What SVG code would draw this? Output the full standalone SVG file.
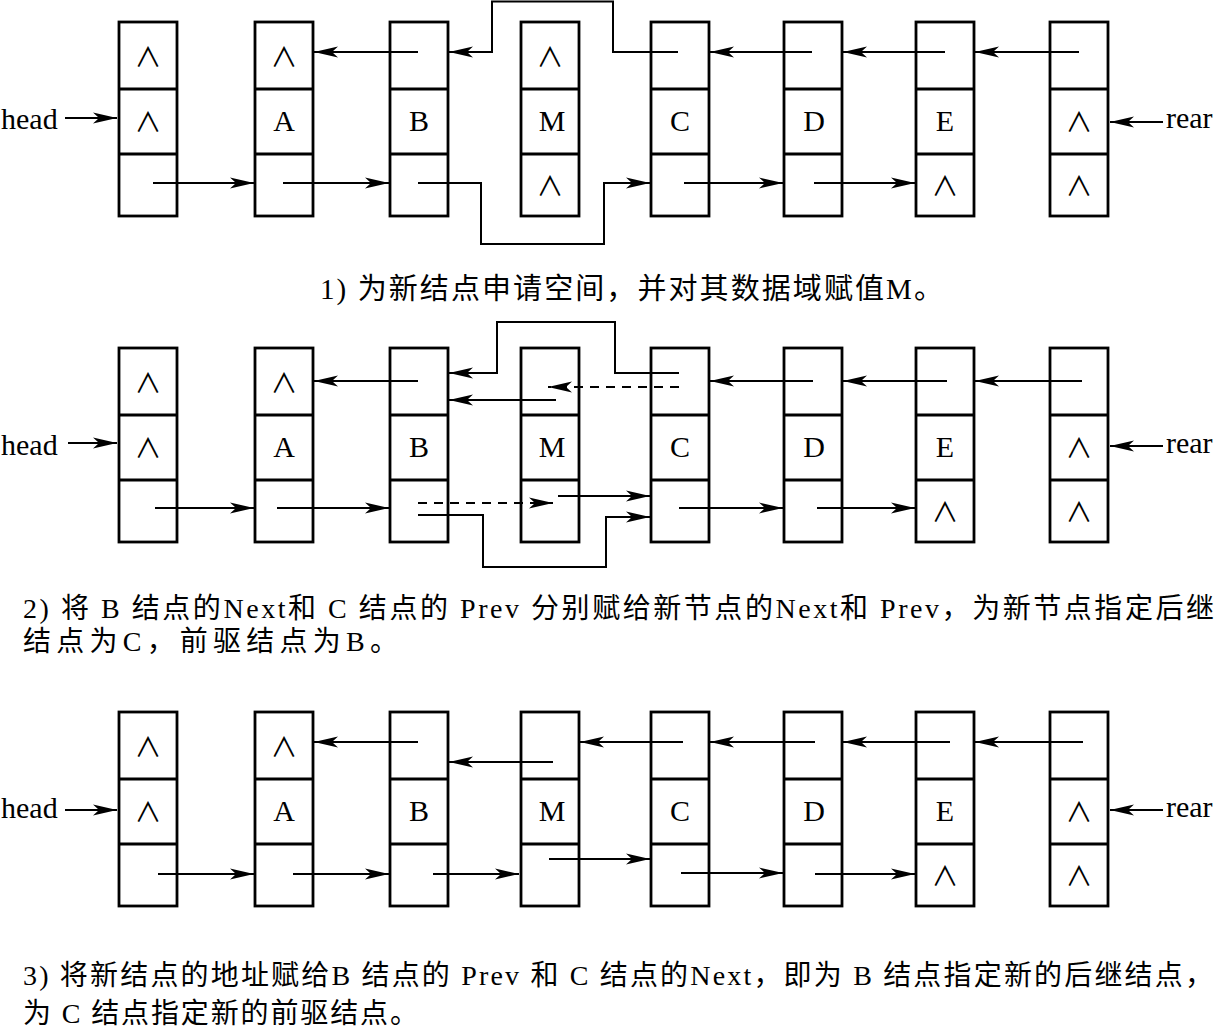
<svg xmlns="http://www.w3.org/2000/svg" width="1217" height="1032" viewBox="0 0 1217 1032">
<style>
.box{fill:#fff;stroke:#000;stroke-width:2.8}
.dv{stroke:#000;stroke-width:2.8}
.lbl{font-family:"Liberation Serif",serif;font-size:30px;text-anchor:middle}
.nil{font-family:"Noto Sans CJK SC",sans-serif;font-size:27px;text-anchor:middle}
.side{font-family:"Liberation Serif",serif;font-size:30px}
.ptr{fill:none;stroke:#000;stroke-width:2;marker-end:url(#ah)}
.dash{stroke-dasharray:9 7}
.cap{font-family:"Liberation Serif","Noto Sans CJK SC",serif;font-size:28px}
.cap1{font-family:"Liberation Serif","Noto Sans CJK SC",serif;font-size:29px}
</style>
<defs>
<marker id="ah" markerUnits="userSpaceOnUse" markerWidth="24" markerHeight="11" refX="24" refY="5.5" orient="auto" overflow="visible">
<path d="M0,0 L24,5.5 L0,11 L6,5.5 Z" fill="#000"/>
</marker>
<g id="cell">
<rect class="box" x="0" y="0" width="58" height="194"/>
<line class="dv" x1="0" y1="67" x2="58" y2="67"/>
<line class="dv" x1="0" y1="132" x2="58" y2="132"/>
</g>
</defs>

<!-- Row 1 -->
<g id="r1-head" transform="translate(119,22)"><use href="#cell"/><text class="nil" x="29" y="45">∧</text><text class="nil" x="29" y="110">∧</text></g>
<g id="r1-A" transform="translate(255,22)"><use href="#cell"/><text class="nil" x="29" y="45">∧</text><text class="lbl" x="29" y="109">A</text></g>
<g id="r1-B" transform="translate(390,22)"><use href="#cell"/><text class="lbl" x="29" y="109">B</text></g>
<g id="r1-M" transform="translate(521,22)"><use href="#cell"/><text class="nil" x="29" y="45">∧</text><text class="lbl" x="31" y="109">M</text><text class="nil" x="29" y="174">∧</text></g>
<g id="r1-C" transform="translate(651,22)"><use href="#cell"/><text class="lbl" x="29" y="109">C</text></g>
<g id="r1-D" transform="translate(784,22)"><use href="#cell"/><text class="lbl" x="30" y="109">D</text></g>
<g id="r1-E" transform="translate(916,22)"><use href="#cell"/><text class="lbl" x="29" y="109">E</text><text class="nil" x="29" y="174">∧</text></g>
<g id="r1-rear" transform="translate(1050,22)"><use href="#cell"/><text class="nil" x="29" y="110">∧</text><text class="nil" x="29" y="174">∧</text></g>
<text class="side" x="1" y="129">head</text>
<text class="side" x="1166" y="128">rear</text>

<!-- Row 2 -->
<g id="r2-head" transform="translate(119,348)"><use href="#cell"/><text class="nil" x="29" y="45">∧</text><text class="nil" x="29" y="110">∧</text></g>
<g id="r2-A" transform="translate(255,348)"><use href="#cell"/><text class="nil" x="29" y="45">∧</text><text class="lbl" x="29" y="109">A</text></g>
<g id="r2-B" transform="translate(390,348)"><use href="#cell"/><text class="lbl" x="29" y="109">B</text></g>
<g id="r2-M" transform="translate(521,348)"><use href="#cell"/><text class="lbl" x="31" y="109">M</text></g>
<g id="r2-C" transform="translate(651,348)"><use href="#cell"/><text class="lbl" x="29" y="109">C</text></g>
<g id="r2-D" transform="translate(784,348)"><use href="#cell"/><text class="lbl" x="30" y="109">D</text></g>
<g id="r2-E" transform="translate(916,348)"><use href="#cell"/><text class="lbl" x="29" y="109">E</text><text class="nil" x="29" y="174">∧</text></g>
<g id="r2-rear" transform="translate(1050,348)"><use href="#cell"/><text class="nil" x="29" y="110">∧</text><text class="nil" x="29" y="174">∧</text></g>
<text class="side" x="1" y="455">head</text>
<text class="side" x="1166" y="453">rear</text>

<!-- Row 3 -->
<g id="r3-head" transform="translate(119,712)"><use href="#cell"/><text class="nil" x="29" y="45">∧</text><text class="nil" x="29" y="110">∧</text></g>
<g id="r3-A" transform="translate(255,712)"><use href="#cell"/><text class="nil" x="29" y="45">∧</text><text class="lbl" x="29" y="109">A</text></g>
<g id="r3-B" transform="translate(390,712)"><use href="#cell"/><text class="lbl" x="29" y="109">B</text></g>
<g id="r3-M" transform="translate(521,712)"><use href="#cell"/><text class="lbl" x="31" y="109">M</text></g>
<g id="r3-C" transform="translate(651,712)"><use href="#cell"/><text class="lbl" x="29" y="109">C</text></g>
<g id="r3-D" transform="translate(784,712)"><use href="#cell"/><text class="lbl" x="30" y="109">D</text></g>
<g id="r3-E" transform="translate(916,712)"><use href="#cell"/><text class="lbl" x="29" y="109">E</text><text class="nil" x="29" y="174">∧</text></g>
<g id="r3-rear" transform="translate(1050,712)"><use href="#cell"/><text class="nil" x="29" y="110">∧</text><text class="nil" x="29" y="174">∧</text></g>
<text class="side" x="1" y="818">head</text>
<text class="side" x="1166" y="817">rear</text>

<g id="connectors">
<!-- row 1 -->
<path class="ptr" d="M65,118 H117"/>
<path class="ptr" d="M1163,122 H1110"/>
<path class="ptr" d="M153,183 H254"/>
<path class="ptr" d="M283,183 H389"/>
<path class="ptr" d="M418,183 H481 V244 H604 V183 H650"/>
<path class="ptr" d="M684,183 H783"/>
<path class="ptr" d="M814,183 H915"/>
<path class="ptr" d="M1079,52 H975"/>
<path class="ptr" d="M945,52 H843"/>
<path class="ptr" d="M812,52 H710"/>
<path class="ptr" d="M678,52 H613 V1.5 H492 V52 H449"/>
<path class="ptr" d="M418,52 H314"/>
<!-- row 2 -->
<path class="ptr" d="M68,443 H117"/>
<path class="ptr" d="M1163,446 H1110"/>
<path class="ptr" d="M155,508 H254"/>
<path class="ptr" d="M277,508 H389"/>
<path class="ptr dash" d="M418,503 H553"/>
<path class="ptr" d="M418,515 H483 V567 H606 V517 H650"/>
<path class="ptr" d="M558,496 H650"/>
<path class="ptr" d="M679,508 H783"/>
<path class="ptr" d="M817,508 H915"/>
<path class="ptr" d="M1082,381 H975"/>
<path class="ptr" d="M947,381 H843"/>
<path class="ptr" d="M813,381 H710"/>
<path class="ptr" d="M679,373 H615 V322 H497 V373 H449"/>
<path class="ptr dash" d="M679,387 H548"/>
<path class="ptr" d="M556,400 H449"/>
<path class="ptr" d="M418,381 H314"/>
<!-- row 3 -->
<path class="ptr" d="M65,810 H117"/>
<path class="ptr" d="M1163,810 H1110"/>
<path class="ptr" d="M158,874 H254"/>
<path class="ptr" d="M293,874 H389"/>
<path class="ptr" d="M433,874 H519"/>
<path class="ptr" d="M549,859 H650"/>
<path class="ptr" d="M681,873 H783"/>
<path class="ptr" d="M815,874 H915"/>
<path class="ptr" d="M1083,742 H975"/>
<path class="ptr" d="M950,742 H843"/>
<path class="ptr" d="M815,742 H710"/>
<path class="ptr" d="M683,742 H580"/>
<path class="ptr" d="M553,762 H449"/>
<path class="ptr" d="M418,742 H314"/>
</g>

<g id="captions">
<text class="cap1" x="320" y="299" textLength="623">1) 为新结点申请空间，并对其数据域赋值M。</text>
<text class="cap" x="23" y="618" textLength="1191">2) 将 B 结点的Next和 C 结点的 Prev 分别赋给新节点的Next和 Prev，为新节点指定后继</text>
<text class="cap" x="23" y="651" textLength="375">结点为C，前驱结点为B。</text>
<text class="cap" x="23" y="985" textLength="1190">3) 将新结点的地址赋给B 结点的 Prev 和 C 结点的Next，即为 B 结点指定新的后继结点，</text>
<text class="cap" x="23" y="1023" textLength="395">为 C 结点指定新的前驱结点。</text>
</g>
</svg>
